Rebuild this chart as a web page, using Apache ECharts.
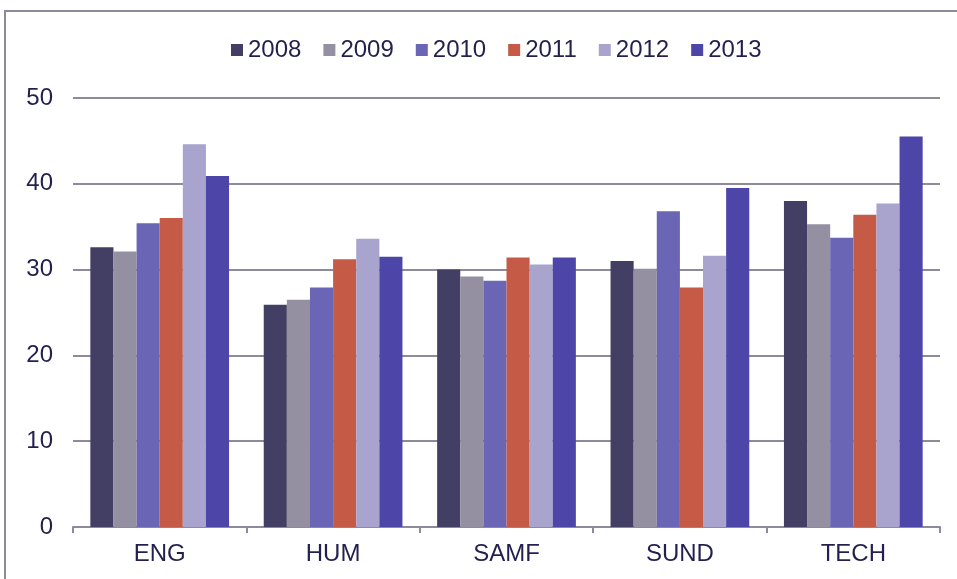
<!DOCTYPE html>
<html>
<head>
<meta charset="utf-8">
<script src="https://cdn.jsdelivr.net/npm/echarts@6/dist/echarts.min.js"></script>
<style>
  html, body { margin: 0; padding: 0; background: #fff; }
  #chart { width: 957px; height: 579px; }
</style>
</head>
<body>
<div id="chart"></div>
<script>
// faculties on the x axis
const categories = ['ENG', 'HUM', 'SAMF', 'SUND', 'TECH']
const years = ['2008', '2009', '2010', '2011', '2012', '2013']

// values, one array per year
const v2008 = [32.6, 25.9, 30.0, 31.0, 38.0]
const v2009 = [32.1, 26.5, 29.2, 30.1, 35.3]
const v2010 = [35.4, 27.9, 28.7, 36.8, 33.7]
const v2011 = [36.0, 31.2, 31.4, 27.9, 36.4]
const v2012 = [44.6, 33.6, 30.6, 31.6, 37.7]
const v2013 = [40.9, 31.5, 31.4, 39.5, 45.5]

const colors = ['#433e64', '#9490a1', '#6b65b5', '#c55a47', '#a9a4cd', '#4d46a8']
const textColor = '#231f4e'
const lineColor = '#8e8a9c'

const chart = echarts.init(document.getElementById('chart'))

const seriesData = [v2008, v2009, v2010, v2011, v2012, v2013]

chart.setOption({
  animation: false,
  color: colors,
  textStyle: { fontFamily: 'Liberation Sans, Arial, sans-serif' },
  graphic: [
    // outer frame of the figure box (left and top edges visible)
    {
      type: 'polyline',
      shape: { points: [[5, 600], [5, 11], [970, 11]] },
      style: { stroke: lineColor, lineWidth: 2, fill: null }
    }
  ],
  legend: {
    top: 33,
    left: 226,
    itemWidth: 12,
    itemHeight: 12,
    itemGap: 22,
    icon: 'rect',
    textStyle: { color: textColor, fontSize: 24 },
    data: years
  },
  grid: { left: 73, right: 17, top: 98, bottom: 52 },
  xAxis: {
    type: 'category',
    data: categories,
    axisLine: { lineStyle: { color: lineColor, width: 2 } },
    axisTick: { show: true, length: 6, lineStyle: { color: lineColor, width: 2 } },
    axisLabel: { color: textColor, fontSize: 24, margin: 15 }
  },
  yAxis: {
    type: 'value',
    min: 0,
    max: 50,
    interval: 10,
    axisLine: { show: false },
    axisTick: { show: false },
    axisLabel: { color: textColor, fontSize: 24, margin: 20 },
    splitLine: { lineStyle: { color: lineColor, width: 2 } }
  },
  series: years.map((y, i) => ({
    name: y,
    type: 'bar',
    data: seriesData[i],
    barGap: '0%',
    barCategoryGap: '20%',
    itemStyle: { color: colors[i] }
  }))
})
</script>
</body>
</html>
